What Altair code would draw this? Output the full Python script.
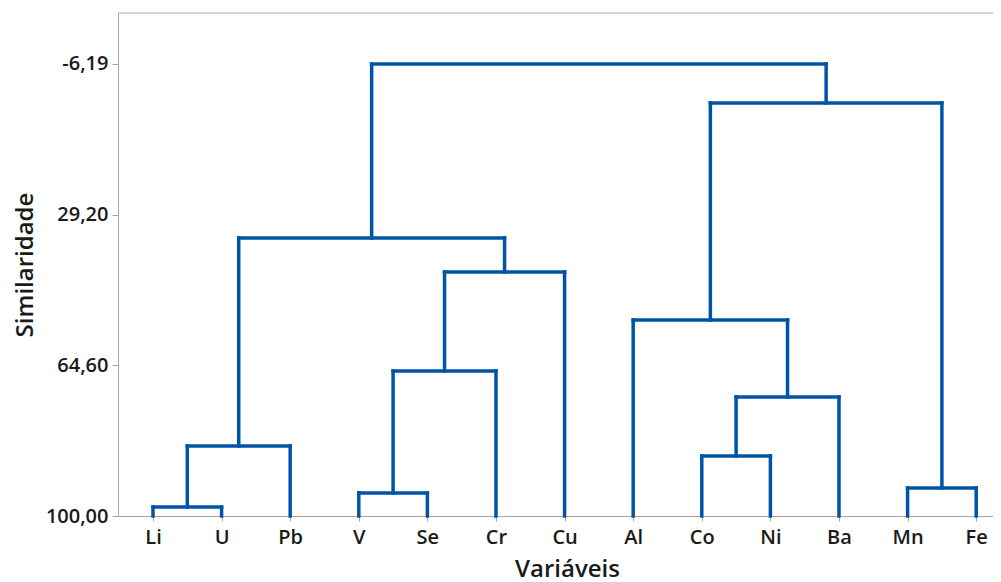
import json
import altair as alt
import pandas as pd

# Leaves in dendrogram order
leaves = ["Li", "U", "Pb", "V", "Se", "Cr", "Cu", "Al", "Co", "Ni", "Ba", "Mn", "Fe"]

# Merges (cluster A, cluster B, similarity level)
merge_a = ["Li", "Li+U", "V", "V+Se", "V+Se+Cr", "Li+U+Pb",
           "Co", "Co+Ni", "Al", "Mn", "Al+Co+Ni+Ba", "Li+U+Pb+V+Se+Cr+Cu"]
merge_b = ["U", "Pb", "Se", "Cr", "Cu", "V+Se+Cr+Cu",
           "Ni", "Ba", "Co+Ni+Ba", "Fe", "Mn+Fe", "Al+Co+Ni+Ba+Mn+Fe"]
similarity = [97.89, 83.55, 94.60, 65.93, 42.68, 34.69,
              85.90, 72.04, 53.95, 93.42, 2.97, -6.19]

y_ticks = [-6.19, 29.20, 64.60, 100.00]

# Build segments through positions derived from the structure
pos = {name: float(i) for i, name in enumerate(leaves)}
hgt = {name: 100.0 for name in leaves}
rows = []
for a, b, s in zip(merge_a, merge_b, similarity):
    xa, xb = pos[a], pos[b]
    rows.append({"x": xa, "x2": xa, "y": hgt[a], "y2": s})
    rows.append({"x": xb, "x2": xb, "y": hgt[b], "y2": s})
    rows.append({"x": xa, "x2": xb, "y": s, "y2": s})
    name = a + "+" + b
    pos[name] = (xa + xb) / 2
    hgt[name] = s
df = pd.DataFrame(rows)

FONT = "Open Sans"
AX = "#a6a6a6"
TXT = "#1a1a1a"
W, H = 875, 503

label_expr_x = json.dumps(leaves) + "[datum.value]"

links = alt.Chart(df).mark_rule(color="#0054A6", strokeWidth=3.5, strokeCap="square").encode(
    x=alt.X("x:Q",
            scale=alt.Scale(domain=[-0.51, 12.245], nice=False, zero=False),
            axis=alt.Axis(values=list(range(len(leaves))), labelExpr=label_expr_x,
                          title="Variáveis", grid=False, domainColor=AX, tickColor=AX,
                          tickSize=5, labelPadding=6, labelFontSize=20, labelFont=FONT,
                          labelFontWeight=600, labelColor=TXT, titleFont=FONT,
                          titleFontSize=24, titleFontWeight=600, titleColor=TXT,
                          titleX=449, titlePadding=10)),
    x2="x2:Q",
    y=alt.Y("y:Q",
            scale=alt.Scale(domain=[100, -18.17], nice=False, zero=False),
            axis=alt.Axis(values=y_ticks,
                          labelExpr="replace(replace(format(datum.value, '.2f'), '.', ','), '\u2212', '-')",
                          title="Similaridade", grid=False, domainColor=AX, tickColor=AX,
                          tickSize=6, labelPadding=4, labelFontSize=20, labelFont=FONT,
                          labelFontWeight=600, labelColor=TXT, titleFont=FONT,
                          titleFontSize=24, titleFontWeight=600, titleColor=TXT,
                          titlePadding=8)),
    y2="y2:Q",
)

top_border = alt.Chart(pd.DataFrame({"v": [0]})).mark_rule(color=AX, strokeWidth=1).encode(
    x=alt.value(0), x2=alt.value(W), y=alt.value(0)
)

chart = alt.layer(top_border, links).properties(
    width=W, height=H,
    padding={"left": 110, "top": 5, "right": 0, "bottom": 66},
    autosize=alt.AutoSizeParams(type="none"),
).configure_view(stroke=None)

chart.save("out.html", embed_options={"renderer": "svg", "actions": False})
